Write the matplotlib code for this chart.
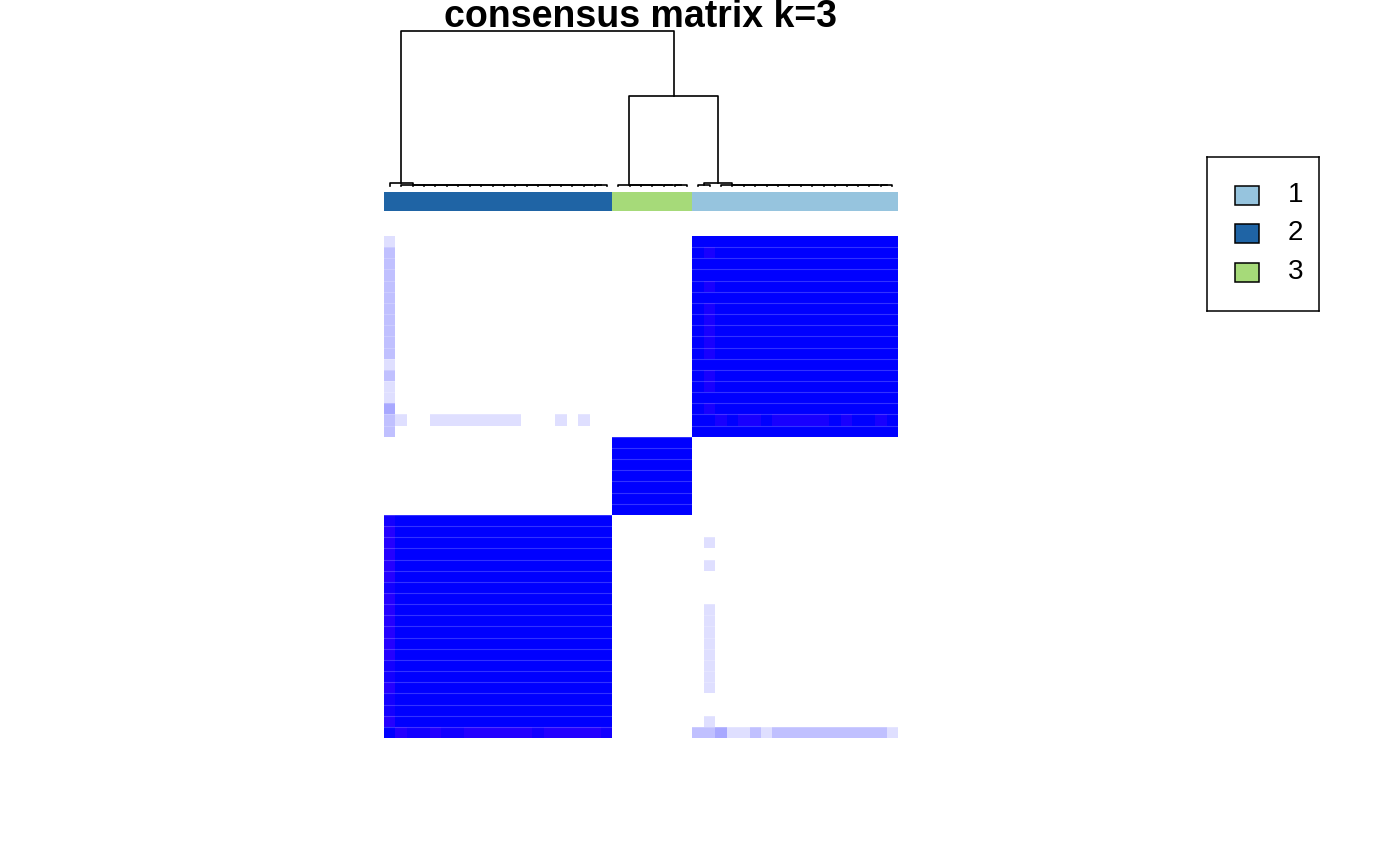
import matplotlib
matplotlib.use('Agg')
import matplotlib.pyplot as plt
import numpy as np
from matplotlib.colors import LinearSegmentedColormap, ListedColormap
from matplotlib.patches import Rectangle

plt.rcParams['font.family'] = ['Liberation Sans', 'DejaVu Sans']

# clusters as they appear left to right, and their sizes
cluster_order = [2, 3, 1]
cluster_sizes = [20, 7, 18]
cluster_colors = {1: '#96C4DE', 2: '#1F64A5', 3: '#A6DA79'}
legend_labels = ['1', '2', '3']

# sample 0 (first of cluster 2): consensus with rest of cluster 2 and with cluster 1
s0_vs_c2 = [0.85, 0.92, 0.92, 0.85, 0.92, 0.92, 0.85, 0.85, 0.85, 0.85,
            0.85, 0.85, 0.92, 0.85, 0.85, 0.85, 0.85, 0.85, 0.92]
s0_vs_c1 = [0.25, 0.25, 0.35, 0.12, 0.12, 0.25, 0.12, 0.25, 0.25, 0.25,
            0.25, 0.25, 0.25, 0.25, 0.25, 0.25, 0.25, 0.12]
# sample 28 (second of cluster 1): consensus with cluster 2 and within cluster 1
s28_vs_c2 = [0.25, 0.12, 0, 0, 0.12, 0.12, 0.12, 0.12, 0.12, 0.12,
             0.12, 0.12, 0, 0, 0, 0.12, 0, 0.12, 0, 0]
s28_vs_c1 = [1, 1, 0.9, 1, 0.9, 0.9, 1, 0.9, 0.9, 0.9,
             0.9, 0.9, 1, 0.9, 1, 1, 0.9, 1]

# dendrogram merge heights
h_root = 1.0
h_c3_c1 = 0.58
h_c2_out = 0.017
h_c1_split = 0.013
h_small = 0.003

# ---- consensus matrix ----
n = sum(cluster_sizes)
starts = np.cumsum([0] + cluster_sizes)
M = np.zeros((n, n))
for a, b in zip(starts[:-1], starts[1:]):
    M[a:b, a:b] = 1.0
c2 = np.arange(starts[0], starts[1])
c1 = np.arange(starts[2], starts[3])
M[0, c2[1:]] = s0_vs_c2
M[c2[1:], 0] = s0_vs_c2
M[0, c1] = s0_vs_c1
M[c1, 0] = s0_vs_c1
s28 = c1[1]
M[s28, c2] = s28_vs_c2
M[c2, s28] = s28_vs_c2
M[s28, c1] = s28_vs_c1
M[c1, s28] = s28_vs_c1

cmap = LinearSegmentedColormap.from_list('cons', [
    (0.0, '#FFFFFF'), (0.05, '#FFFFFF'), (0.12, '#DEDEFF'), (0.25, '#C0C0FF'),
    (0.35, '#A8A8FF'), (0.8, '#3000FF'), (1.0, '#0000FF')])

fig = plt.figure(figsize=(14, 8.65), dpi=100)
W, H = 1400, 865

def px_axes(x0, y0, x1, y1):
    return fig.add_axes([x0 / W, 1 - y1 / H, (x1 - x0) / W, (y1 - y0) / H])

ax = px_axes(384, 236, 898, 738)
ax.pcolormesh(M, cmap=cmap, vmin=0, vmax=1)
for i in range(1, n):
    ax.axhline(i, color='white', alpha=0.2, lw=0.8)
ax.set_xlim(0, n)
ax.set_ylim(0, n)
ax.axis('off')

# cluster colour bar
labels = np.concatenate([[c] * s for c, s in zip(cluster_order, cluster_sizes)])
axb = px_axes(384, 192, 898, 211)
bar_cmap = ListedColormap([cluster_colors[k] for k in (1, 2, 3)])
axb.pcolormesh(labels[np.newaxis, :], cmap=bar_cmap, vmin=0.5, vmax=3.5)
axb.set_xlim(0, n)
axb.axis('off')

# ---- dendrogram ----
def chain(idx, h):
    node = int(idx[-1])
    for i in reversed(idx[:-1]):
        node = (int(i), node, h)
    return node

c3 = np.arange(starts[1], starts[2])
tree_c2 = (0, chain(c2[1:], h_small), h_c2_out)
tree_c3 = chain(c3, h_small)
tree_c1 = ((int(c1[0]), int(c1[1]), h_small), chain(c1[2:], h_small), h_c1_split)
tree = (tree_c2, (tree_c3, tree_c1, h_c3_c1), h_root)

axd = px_axes(384, 31, 898, 185.5)

def draw(node):
    if isinstance(node, int):
        return node + 0.5, 0.0
    l, r, h = node
    xl, hl = draw(l)
    xr, hr = draw(r)
    axd.plot([xl, xl, xr, xr], [hl, h, h, hr], color='black', lw=1.2, clip_on=False)
    return (xl + xr) / 2, h

draw(tree)
axd.set_xlim(0, n)
axd.set_ylim(0, 1)
axd.axis('off')

fig.text(640 / W, 1 - 26.7 / H, 'consensus matrix k=3', ha='center', va='baseline',
         fontsize=27, fontweight='bold')

# ---- legend ----
axl = px_axes(1207, 157, 1319, 311)
axl.set_xlim(0, 112)
axl.set_ylim(154, 0)
axl.set_xticks([])
axl.set_yticks([])
for sp in axl.spines.values():
    sp.set_linewidth(1.1)
for k, lab in enumerate(legend_labels):
    yc = 38 + k * 38.5
    axl.add_patch(Rectangle((28, yc - 9.5), 24, 19, facecolor=cluster_colors[int(lab)],
                            edgecolor='black', lw=1.1))
    axl.text(81, yc, lab, fontsize=20, va='center', ha='left')

fig.savefig('out.png', dpi=100)
